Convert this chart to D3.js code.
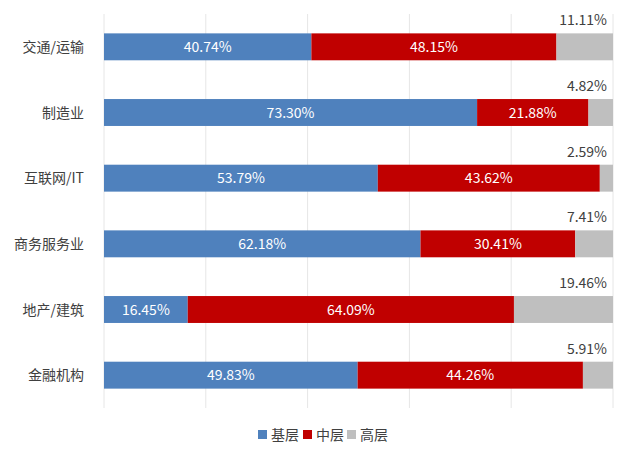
<!DOCTYPE html>
<html>
<head>
<meta charset="utf-8">
<script src="https://cdn.jsdelivr.net/npm/d3@7"></script>
<style>
  body { margin: 0; background: #fff; }
  svg text { font-family: "Noto Sans CJK SC", "Microsoft YaHei", sans-serif; }
</style>
</head>
<body>
<svg id="chart" width="638" height="460"></svg>
<script>
// data
const categories = ['交通/运输', '制造业', '互联网/IT', '商务服务业', '地产/建筑', '金融机构'];
const seriesNames = ['基层', '中层', '高层'];
const base = [40.74, 73.30, 53.79, 62.18, 16.45, 49.83];
const mid = [48.15, 21.88, 43.62, 30.41, 64.09, 44.26];
const high = [11.11, 4.82, 2.59, 7.41, 19.46, 5.91];
const xTicks = [0, 20, 40, 60, 80, 100];

const colors = ['#4f81bd', '#c00000', '#bfbfbf'];

let svg = d3.select('#chart');
let plotLeft = 104, plotRight = 613, plotTop = 14, plotBottom = 408;

let x = d3.scaleLinear().domain([0, 100]).range([plotLeft, plotRight]);
let y = d3.scaleBand().domain(categories).range([plotTop, plotBottom]).paddingInner(0.59).paddingOuter(0.295);

// gridlines
svg.append('g')
  .selectAll('line')
  .data(xTicks)
  .enter()
  .append('line')
  .attr('x1', d => x(d))
  .attr('x2', d => x(d))
  .attr('y1', plotTop)
  .attr('y2', plotBottom)
  .attr('stroke', '#e6e6e6')
  .attr('stroke-width', 1)
;

// stack table
let rows = categories.map((c, i) => ({cat: c, '基层': base[i], '中层': mid[i], '高层': high[i]}));
let stack = d3.stack().keys(seriesNames)(rows);

let layers = svg.append('g')
  .selectAll('g')
  .data(stack)
  .enter()
  .append('g')
  .attr('fill', (d, i) => colors[i])
;

layers.selectAll('rect')
  .data(d => d)
  .enter()
  .append('rect')
  .attr('x', d => x(d[0]))
  .attr('width', d => x(d[1]) - x(d[0]))
  .attr('y', d => y(d.data.cat))
  .attr('height', y.bandwidth())
;

// labels inside the blue and red segments
stack.slice(0, 2).forEach(layer => {
  svg.append('g')
    .selectAll('text')
    .data(layer)
    .enter()
    .append('text')
    .attr('x', d => (x(d[0]) + x(d[1])) / 2)
    .attr('y', d => y(d.data.cat) + y.bandwidth() / 2)
    .attr('dy', '0.36em')
    .attr('text-anchor', 'middle')
    .attr('fill', '#fff')
    .attr('font-size', 14)
    .text(d => (d[1] - d[0]).toFixed(2) + '%')
  ;
});

// labels for the gray segment sit above the bar
svg.append('g')
  .selectAll('text')
  .data(stack[2])
  .enter()
  .append('text')
  .attr('x', x(100) - 6)
  .attr('y', d => y(d.data.cat) - 8)
  .attr('text-anchor', 'end')
  .attr('fill', '#404040')
  .attr('font-size', 14)
  .text(d => (d[1] - d[0]).toFixed(2) + '%')
;

// category axis
svg.append('g')
  .selectAll('text')
  .data(categories)
  .enter()
  .append('text')
  .attr('x', 84)
  .attr('y', d => y(d) + y.bandwidth() / 2)
  .attr('dy', '0.36em')
  .attr('text-anchor', 'end')
  .attr('fill', '#404040')
  .attr('font-size', 14)
  .text(d => d)
;

// legend
let legendX = [258, 303, 347];
let legend = svg.append('g')
  .selectAll('g')
  .data(seriesNames)
  .enter()
  .append('g')
  .attr('transform', (d, i) => `translate(${legendX[i]},434.5)`)
;
legend.append('rect')
  .attr('x', 0)
  .attr('y', -4.5)
  .attr('width', 9)
  .attr('height', 9)
  .attr('fill', (d, i) => colors[i])
;
legend.append('text')
  .attr('x', 13)
  .attr('dy', '0.36em')
  .attr('fill', '#404040')
  .attr('font-size', 14)
  .text(d => d)
;
</script>
</body>
</html>
